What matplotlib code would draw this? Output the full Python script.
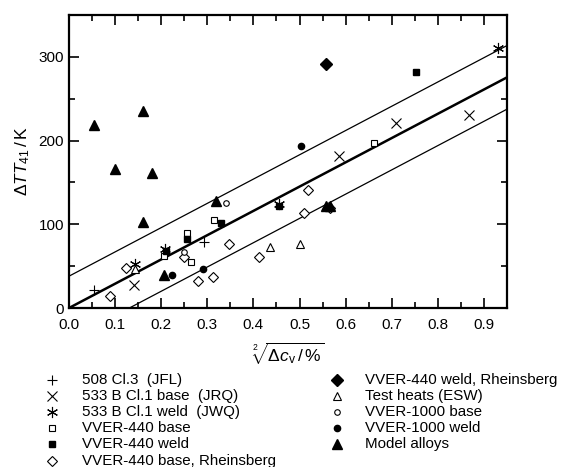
import numpy as np
import matplotlib.pyplot as plt
from matplotlib.ticker import MultipleLocator

plt.rcParams['font.family'] = ['Liberation Sans', 'DejaVu Sans']
plt.rcParams['mathtext.fontset'] = 'custom'
plt.rcParams['mathtext.rm'] = 'Liberation Sans'
plt.rcParams['mathtext.it'] = 'Liberation Sans:italic'

# data: x = sqrt(delta c_v / %), y = delta TT41 / K
jfl_x = [0.055, 0.293]
jfl_y = [21, 79]
jrq_x = [0.142, 0.586, 0.709, 0.868]
jrq_y = [27, 181, 221, 230]
jwq_x = [0.143, 0.208, 0.456, 0.930]
jwq_y = [53, 70, 124, 311]
v440_base_x = [0.206, 0.257, 0.265, 0.314, 0.662]
v440_base_y = [62, 90, 55, 105, 197]
v440_weld_x = [0.210, 0.257, 0.330, 0.456, 0.753]
v440_weld_y = [68, 83, 102, 122, 282]
v440_base_rh_x = [0.089, 0.123, 0.249, 0.279, 0.312, 0.348, 0.413, 0.510, 0.518, 0.566]
v440_base_rh_y = [14, 48, 61, 32, 37, 77, 61, 113, 141, 119]
v440_weld_rh_x = [0.557]
v440_weld_rh_y = [291]
esw_x = [0.143, 0.436, 0.501]
esw_y = [47, 73, 76]
v1000_base_x = [0.249, 0.340]
v1000_base_y = [67, 126]
v1000_weld_x = [0.223, 0.290, 0.503]
v1000_weld_y = [39, 47, 193]
model_x = [0.055, 0.100, 0.161, 0.161, 0.180, 0.206, 0.318, 0.557, 0.566]
model_y = [219, 166, 235, 103, 161, 39, 128, 122, 122]

# fit line and scatter band
slope = 290.0
band = 38.0

series = [
    ("508 Cl.3  (JFL)", jfl_x, jfl_y, dict(marker='+', ms=7, mew=0.8, color='k')),
    ("533 B Cl.1 base  (JRQ)", jrq_x, jrq_y, dict(marker='x', ms=6.5, mew=0.8, color='k')),
    ("533 B Cl.1 weld  (JWQ)", jwq_x, jwq_y, dict(marker=(6, 2, 0), ms=8, mew=0.8, color='k')),
    ("VVER-440 base", v440_base_x, v440_base_y, dict(marker='s', ms=4, mew=0.8, mfc='white', color='k')),
    ("VVER-440 weld", v440_weld_x, v440_weld_y, dict(marker='s', ms=4, color='k')),
    ("VVER-440 base, Rheinsberg", v440_base_rh_x, v440_base_rh_y, dict(marker='D', ms=5.5, mew=0.8, mfc='white', color='k')),
    ("VVER-440 weld, Rheinsberg", v440_weld_rh_x, v440_weld_rh_y, dict(marker='D', ms=6, color='k')),
    ("Test heats (ESW)", esw_x, esw_y, dict(marker='^', ms=6, mew=0.8, mfc='white', color='k')),
    ("VVER-1000 base", v1000_base_x, v1000_base_y, dict(marker='o', ms=4, mew=0.8, mfc='white', color='k')),
    ("VVER-1000 weld", v1000_weld_x, v1000_weld_y, dict(marker='o', ms=4.5, color='k')),
    ("Model alloys", model_x, model_y, dict(marker='^', ms=7, color='k')),
]

fig = plt.figure(figsize=(5.66, 4.67), dpi=100)
ax = fig.add_axes([69 / 566, 1 - 308 / 467, 438 / 566, 293 / 467])

xl = np.array([0.0, 0.95])
ax.plot(xl, slope * xl, color='k', lw=1.8)
ax.plot(xl, slope * xl + band, color='k', lw=0.9)
ax.plot(xl, slope * xl - band, color='k', lw=0.9)

for name, xs, ys, st in series:
    ax.plot(xs, ys, ls='none', **st)

ax.set_xlim(0, 0.95)
ax.set_ylim(0, 350)
ax.xaxis.set_major_locator(MultipleLocator(0.1))
ax.xaxis.set_minor_locator(MultipleLocator(0.05))
ax.yaxis.set_major_locator(MultipleLocator(100))
ax.yaxis.set_minor_locator(MultipleLocator(50))
ax.tick_params(which='both', direction='in', top=True, right=True, labelsize=11, width=1.2)
ax.tick_params(which='major', length=7)
ax.tick_params(which='minor', length=4.5)
ax.tick_params(axis='x', pad=7)
ax.set_yticks([0, 100, 200, 300])
ax.set_xticks(np.arange(0, 0.95, 0.1))
ax.set_xticklabels([f"{v:.1f}" for v in np.arange(0, 0.95, 0.1)])
for sp in ax.spines.values():
    sp.set_linewidth(1.6)

ax.set_xlabel(r'$\sqrt[2]{\Delta c_{\mathrm{v}}\,/\,\%}$', fontsize=12.5, labelpad=7)
ax.set_ylabel(r'$\Delta TT_{41}\,/\,\mathrm{K}$', fontsize=12.5, labelpad=5)

# legend drawn in pixel coordinates below the axes
lax = fig.add_axes([0, 0, 1, 1])
lax.set_xlim(0, 566)
lax.set_ylim(467, 0)
lax.axis('off')
col_x = [(52, 82), (337, 365)]
for i, (name, xs, ys, st) in enumerate(series):
    col = 0 if i < 6 else 1
    row = i if i < 6 else i - 6
    y = 380 + row * 16.1
    mx, tx = col_x[col]
    lax.plot([mx], [y], ls='none', **st)
    lax.text(tx, y, name, fontsize=10.9, va='center', ha='left')

fig.savefig('out.png', dpi=100)
